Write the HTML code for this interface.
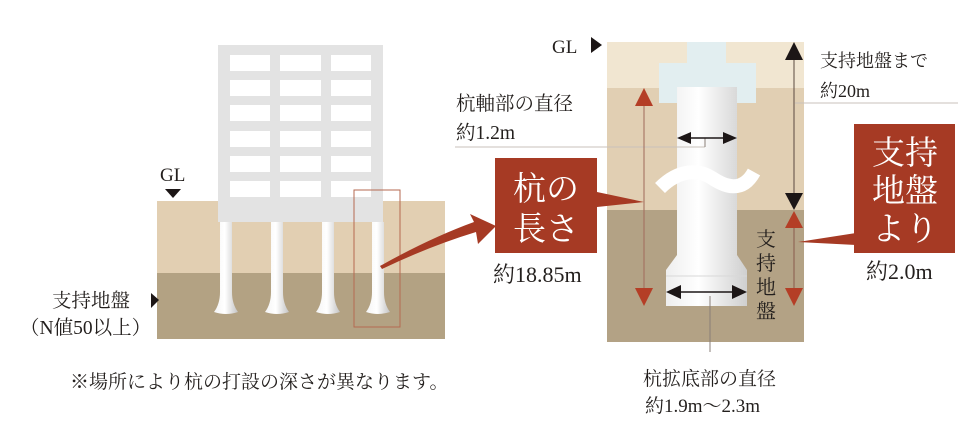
<!DOCTYPE html>
<html><head><meta charset="utf-8"><style>
html,body{margin:0;padding:0;background:#fff;}
svg{display:block}
text{font-family:"Liberation Serif","Noto Serif CJK SC","Noto Serif CJK JP",serif;fill:#231f1d;}
</style></head><body>
<svg width="980" height="446" viewBox="0 0 980 446" xmlns="http://www.w3.org/2000/svg">
<defs>
<linearGradient id="pg" x1="0" x2="1" y1="0" y2="0">
<stop offset="0" stop-color="#f4f4f4"/><stop offset="0.45" stop-color="#ffffff"/><stop offset="1" stop-color="#c4c4c4"/>
</linearGradient>
<linearGradient id="pg2" x1="0" x2="1" y1="0" y2="0">
<stop offset="0" stop-color="#eeeeee"/><stop offset="0.4" stop-color="#ffffff"/><stop offset="1" stop-color="#cfcfcf"/>
</linearGradient>
</defs>

<!-- LEFT DIAGRAM -->
<rect x="157" y="201" width="288" height="72" fill="#e2cfb2"/>
<rect x="157" y="273" width="288" height="66" fill="#b3a283"/>
<rect x="218" y="45" width="165" height="177" fill="#e3e3e3"/>
<g fill="#fff">
<rect x="230" y="55" width="40" height="16"/><rect x="280" y="55" width="41" height="16"/><rect x="331" y="55" width="40" height="16"/>
<rect x="230" y="80" width="40" height="16"/><rect x="280" y="80" width="41" height="16"/><rect x="331" y="80" width="40" height="16"/>
<rect x="230" y="105" width="40" height="16"/><rect x="280" y="105" width="41" height="16"/><rect x="331" y="105" width="40" height="16"/>
<rect x="230" y="131" width="40" height="16"/><rect x="280" y="131" width="41" height="16"/><rect x="331" y="131" width="40" height="16"/>
<rect x="230" y="156" width="40" height="16"/><rect x="280" y="156" width="41" height="16"/><rect x="331" y="156" width="40" height="16"/>
<rect x="230" y="181" width="40" height="16"/><rect x="280" y="181" width="41" height="16"/><rect x="331" y="181" width="40" height="16"/>
</g>
<g fill="url(#pg)">
<path d="M220,222 h12 v70 q0,12 6,20 q-12,4 -24,0 q6,-8 6,-20z"/>
<path d="M271,222 h12 v70 q0,12 6,20 q-12,4 -24,0 q6,-8 6,-20z"/>
<path d="M322,222 h12 v70 q0,12 6,20 q-12,4 -24,0 q6,-8 6,-20z"/>
<path d="M372,222 h12 v70 q0,12 6,20 q-12,4 -24,0 q6,-8 6,-20z"/>
</g>
<rect x="354" y="190" width="46" height="137" fill="none" stroke="#b56a50" stroke-width="1"/>
<path d="M380,266 Q430,238 474,222 L470,214 L496,226 L478,244 L476,232 Q430,246 382,269z" fill="#a63a24"/>
<text x="160" y="181" font-size="19">GL</text>
<polygon points="165,189 181,189 173,198" fill="#1c1616"/>
<text x="52" y="307" font-size="19.5">支持地盤</text>
<text x="20" y="334" font-size="19.5">（N値50以上）</text>
<polygon points="151,293 159,300 151,308" fill="#1c1616"/>
<text x="70" y="388" font-size="19">※場所により杭の打設の深さが異なります。</text>

<!-- RIGHT DIAGRAM -->
<rect x="607" y="42" width="197" height="46" fill="#f1e6d1"/>
<rect x="607" y="88" width="197" height="122" fill="#e1cfb3"/>
<rect x="607" y="210" width="197" height="132" fill="#b3a285"/>
<path d="M687,42 h39 v21 h30 v40 h-97 v-40 h28z" fill="#e2eef0"/>
<path d="M677,87 h60 v168 l10,15 v36 h-81 v-36 l11,-15z" fill="url(#pg2)"/>
<line x1="666" y1="276" x2="747" y2="276" stroke="#d8d8d8" stroke-width="1"/>
<!-- wave -->
<path d="M660,188 C680,168 700,170 712,178 S742,194 754,172" fill="none" stroke="#fff" stroke-width="14" stroke-linecap="butt"/>
<!-- lines -->
<line x1="455" y1="147" x2="705" y2="147" stroke="#c9c2bb" stroke-width="1"/>
<line x1="705" y1="147" x2="705" y2="138" stroke="#8a7f78" stroke-width="1"/>
<line x1="795" y1="103" x2="958" y2="103" stroke="#c9c2bb" stroke-width="1"/>
<line x1="710" y1="296" x2="710" y2="352" stroke="#8a7f78" stroke-width="1"/>
<line x1="684" y1="138" x2="730" y2="138" stroke="#1c1616" stroke-width="1.5"/>
<polygon points="677,138 691,132 691,144" fill="#1c1616"/>
<polygon points="737,138 723,132 723,144" fill="#1c1616"/>
<line x1="674" y1="292" x2="740" y2="292" stroke="#1c1616" stroke-width="1.5"/>
<polygon points="666,292 681,285 681,299" fill="#1c1616"/>
<polygon points="747,292 732,285 732,299" fill="#1c1616"/>
<line x1="644" y1="95" x2="644" y2="300" stroke="#a06a5a" stroke-width="1"/>
<polygon points="644,88 635,106 653,106" fill="#b43e26"/>
<polygon points="644,306 635,288 653,288" fill="#b43e26"/>
<line x1="794" y1="48" x2="794" y2="205" stroke="#5a4a40" stroke-width="1"/>
<polygon points="794,42 785,60 803,60" fill="#1c1616"/>
<polygon points="794,210 785,193 803,193" fill="#1c1616"/>
<line x1="794" y1="215" x2="794" y2="300" stroke="#8a5a4a" stroke-width="1"/>
<polygon points="794,211 785,228 803,228" fill="#b43e26"/>
<polygon points="794,306 785,288 803,288" fill="#b43e26"/>
<text x="756" y="246" font-size="20">支</text>
<text x="756" y="270" font-size="20">持</text>
<text x="756" y="294" font-size="20">地</text>
<text x="756" y="318" font-size="20">盤</text>

<polygon points="597,192 644,202 597,207" fill="#a63a24"/>
<rect x="495" y="158" width="102" height="95" fill="#a63a24"/>
<text x="546" y="200" font-size="33" text-anchor="middle" style="fill:#fff">杭の</text>
<text x="546" y="240" font-size="33" text-anchor="middle" style="fill:#fff">長さ</text>
<text x="493" y="282" font-size="22">約18.85m</text>

<polygon points="856,233 798,242 856,245" fill="#a63a24"/>
<rect x="854" y="124" width="101" height="129" fill="#a63a24"/>
<text x="905" y="164" font-size="33" text-anchor="middle" style="fill:#fff">支持</text>
<text x="905" y="202" font-size="33" text-anchor="middle" style="fill:#fff">地盤</text>
<text x="905" y="240" font-size="33" text-anchor="middle" style="fill:#fff">より</text>
<text x="866" y="279" font-size="22">約2.0m</text>

<text x="456" y="110" font-size="19.5">杭軸部の直径</text>
<text x="456" y="139" font-size="19.5">約1.2m</text>
<text x="820" y="67" font-size="18">支持地盤まで</text>
<text x="820" y="97" font-size="18">約20m</text>
<text x="552" y="53" font-size="19">GL</text>
<polygon points="591,37 602,45 591,53" fill="#1c1616"/>
<text x="643" y="385" font-size="19">杭拡底部の直径</text>
<text x="645" y="412" font-size="19">約1.9m～2.3m</text>
</svg>
</body></html>
